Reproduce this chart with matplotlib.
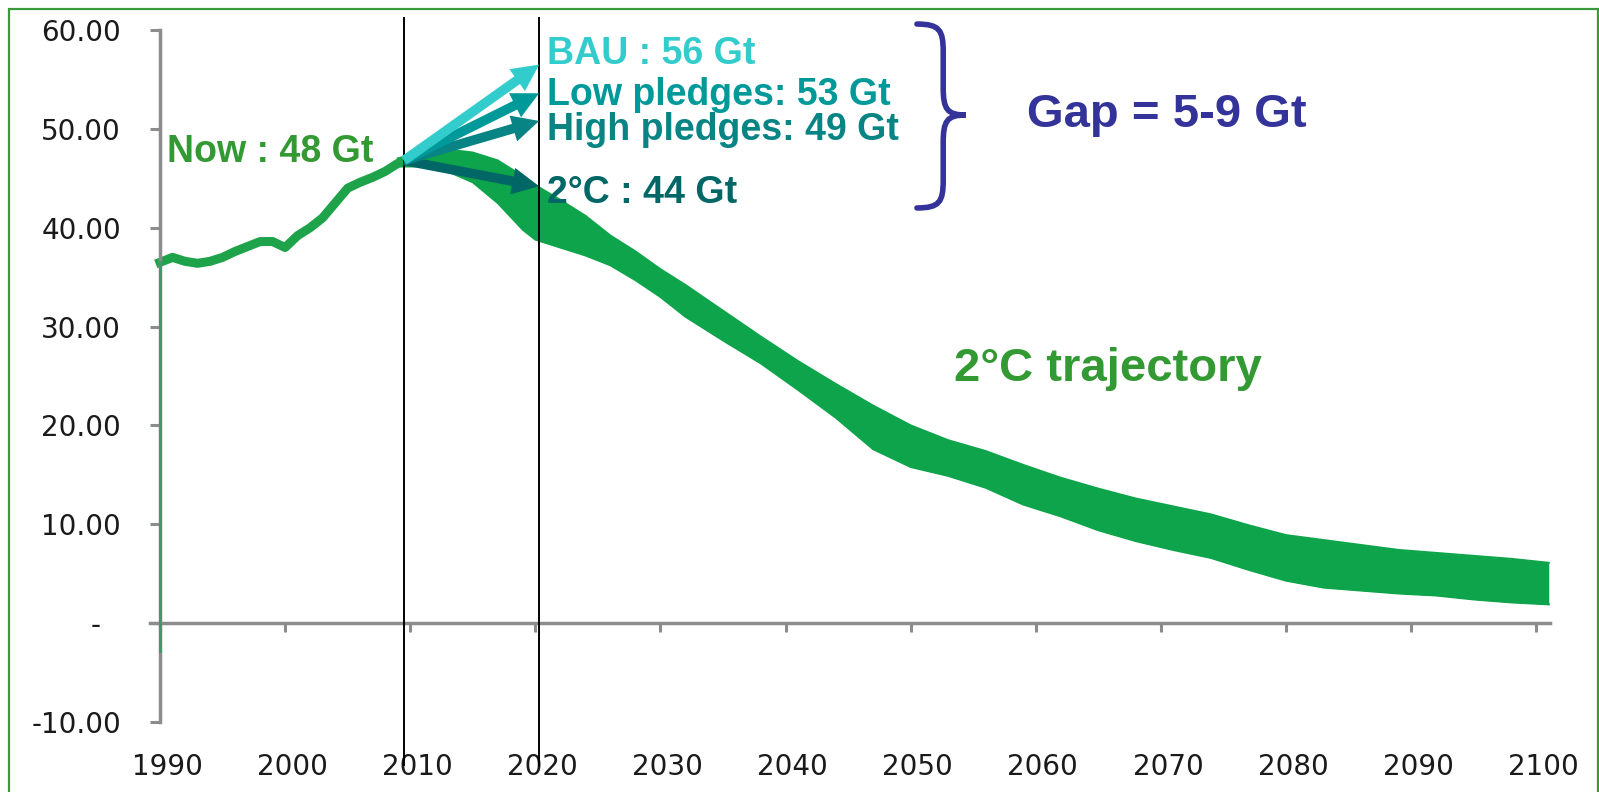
import matplotlib.pyplot as plt
from matplotlib.path import Path
from matplotlib.patches import PathPatch, Rectangle
from matplotlib.transforms import ScaledTranslation

# historical emissions (Gt)
hist_years = [1990, 1991, 1992, 1993, 1994, 1995, 1996, 1997, 1998, 1999, 2000,
              2001, 2002, 2003, 2004, 2005, 2006, 2007, 2008, 2009, 2010]
hist_values = [36.5, 37.0, 36.6, 36.4, 36.6, 37.0, 37.6, 38.1, 38.6, 38.6, 38.0,
               39.2, 40.0, 41.0, 42.5, 44.0, 44.6, 45.1, 45.7, 46.5, 47.0]

# 2C trajectory band
band_years = [2009, 2011, 2013, 2015, 2017, 2019, 2020, 2022, 2024, 2026, 2028,
              2030, 2032, 2035, 2038, 2041, 2044, 2047, 2050, 2053, 2056, 2059,
              2062, 2065, 2068, 2071, 2074, 2077, 2080, 2083, 2086, 2089, 2092,
              2095, 2098, 2101]
band_upper = [47.0, 47.7, 47.9, 47.6, 46.8, 45.2, 44.3, 42.8, 41.2, 39.2, 37.6,
              35.8, 34.2, 31.6, 29.0, 26.5, 24.2, 22.0, 20.0, 18.5, 17.4, 16.0,
              14.7, 13.6, 12.6, 11.8, 11.0, 9.9, 8.9, 8.4, 7.9, 7.4, 7.1,
              6.8, 6.5, 6.1]
band_lower = [46.2, 46.2, 45.7, 44.6, 42.5, 39.8, 38.8, 38.0, 37.2, 36.2, 34.7,
              33.0, 31.0, 28.6, 26.3, 23.6, 20.8, 17.6, 15.8, 14.9, 13.7, 12.0,
              10.8, 9.4, 8.3, 7.4, 6.6, 5.4, 4.3, 3.6, 3.3, 3.0, 2.8,
              2.4, 2.1, 1.9]

# scenario arrows for 2020
arrow_start = (2009.5, 46.8)
arrow_year = 2020.3
scen_labels = ["BAU : 56 Gt", "Low pledges: 53 Gt", "High pledges: 49 Gt", "2°C : 44 Gt"]
scen_tips = [56.5, 53.6, 50.8, 44.2]
scen_text_y = [56.6, 52.4, 48.9, 42.5]
scen_colors = ["#33cccc", "#009999", "#088484", "#006666"]

marker_years = [2009.5, 2020.3]
decades = list(range(1990, 2101, 10))
yticks = list(range(-10, 61, 10))
ytick_labels = ["-10.00", "-", "10.00", "20.00", "30.00", "40.00", "50.00", "60.00"]

green = "#0ea44b"
text_green = "#339933"
gap_blue = "#333399"
gray = "#8c8c8c"
bold_font = "Liberation Sans"

fig = plt.figure(figsize=(15.99, 7.92), dpi=100)
fig.patches.append(Rectangle((9 / 1599, -0.05), (1598 - 9) / 1599, 1.05 - 9 / 792,
                             transform=fig.transFigure, fill=False,
                             edgecolor="#3a9a3a", lw=1.6))

ax = fig.add_axes([150 / 1599, 1 - 722 / 792, 1400 / 1599, 692 / 792])
ax.set_xlim(1989.2, 2101.1)
ax.set_ylim(-10, 60)

for s in ["top", "right"]:
    ax.spines[s].set_visible(False)
ax.spines["left"].set_position(("data", 1990))
ax.spines["bottom"].set_position(("data", 0))
for s in ["left", "bottom"]:
    ax.spines[s].set_color(gray)
    ax.spines[s].set_linewidth(2.5)

ax.set_yticks(yticks)
ax.set_yticklabels(ytick_labels)
ax.tick_params(axis="y", direction="out", length=7, width=2.2, color=gray,
               pad=21, labelsize=20, labelcolor="#1a1a1a")
# the "-" for zero sits further left, like Excel's accounting format
zero_lab = ax.get_yticklabels()[1]
zero_lab.set_transform(zero_lab.get_transform()
                       + ScaledTranslation(-0.2, 0, fig.dpi_scale_trans))

ax.set_xticks(decades)
ax.tick_params(axis="x", direction="out", length=6.5, width=2.2, color=gray,
               labelbottom=False)

sec = ax.secondary_xaxis(0)
sec.set_xticks(decades)
sec.set_xticklabels([str(d) for d in decades])
sec.tick_params(length=0, pad=22, labelsize=20, labelcolor="#1a1a1a")
sec.spines["bottom"].set_visible(False)
for lab in sec.get_xticklabels():
    lab.set_transform(lab.get_transform()
                      + ScaledTranslation(0.07, 0, fig.dpi_scale_trans))

# green part of the line running down the y axis
ax.plot([1990, 1990], [-2.8, hist_values[0]], color="#3a9a6a", lw=2, zorder=3)

ax.fill_between(band_years, band_lower, band_upper, color=green, lw=0, zorder=2)
ax.plot(band_years, band_upper, color=green, lw=1.5, zorder=2)
ax.plot(band_years, band_lower, color=green, lw=1.5, zorder=2)
ax.plot(hist_years, hist_values, color="#1fa34a", lw=6.5, solid_joinstyle="round",
        zorder=2)

for x in marker_years:
    ax.axvline(x, ymin=-0.062, ymax=1.017, color="black", lw=1.4, clip_on=False,
               zorder=4)

for tip, c in reversed(list(zip(scen_tips, scen_colors))):
    ax.annotate("", xy=(arrow_year, tip), xytext=arrow_start,
                arrowprops=dict(arrowstyle="simple,head_length=0.42,head_width=0.42,tail_width=0.15",
                                mutation_scale=46, color=c, lw=0,
                                shrinkA=0, shrinkB=0),
                annotation_clip=False, zorder=5)

for lab, y, c in zip(scen_labels, scen_text_y, scen_colors):
    ax.text(2020.9, y, lab, fontsize=27, fontweight="bold", color=c,
            family=bold_font, va="baseline", zorder=6)

ax.text(1990.55, 46.6, "Now : 48 Gt", fontsize=27, fontweight="bold",
        color=text_green, family=bold_font, va="baseline")
ax.text(2053.5, 24.5, "2°C trajectory", fontsize=34, fontweight="bold",
        color=text_green, family=bold_font, va="baseline")
ax.text(2059.3, 50.2, "Gap = 5-9 Gt", fontsize=34, fontweight="bold",
        color=gap_blue, family=bold_font, va="baseline")

# curly brace
x0, x1, x2 = 2050.5, 2052.6, 2054.4
ytop, ymid, ybot, r = 60.6, 51.4, 42.0, 2.8
verts = [(x0, ytop), (x1 - 0.3, ytop), (x1, ytop - 0.6), (x1, ytop - r),
         (x1, ymid + r),
         (x1, ymid + 0.6), (x1 + 0.3, ymid), (x2, ymid),
         (x1 + 0.3, ymid), (x1, ymid - 0.6), (x1, ymid - r),
         (x1, ybot + r),
         (x1, ybot + 0.6), (x1 - 0.3, ybot), (x0, ybot)]
codes = [Path.MOVETO, Path.CURVE4, Path.CURVE4, Path.CURVE4,
         Path.LINETO,
         Path.CURVE4, Path.CURVE4, Path.CURVE4,
         Path.CURVE4, Path.CURVE4, Path.CURVE4,
         Path.LINETO,
         Path.CURVE4, Path.CURVE4, Path.CURVE4]
ax.add_patch(PathPatch(Path(verts, codes), fill=False, edgecolor=gap_blue,
                       lw=4, capstyle="round", clip_on=False))

fig.savefig("out.png", dpi=100)
